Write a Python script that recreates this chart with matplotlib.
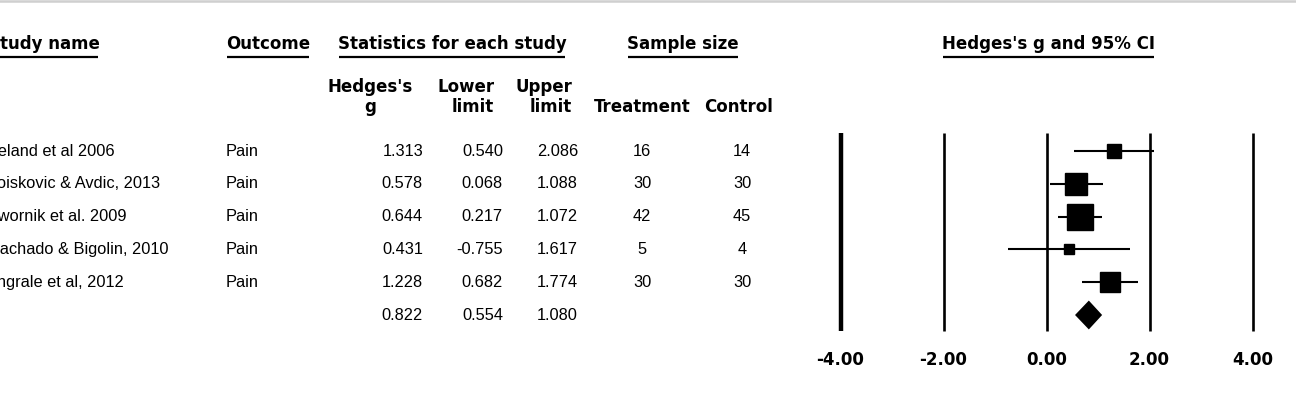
import matplotlib
matplotlib.use('Agg')
import matplotlib.pyplot as plt
import numpy as np

# data
studies = ['Ueland et al 2006', 'Boiskovic & Avdic, 2013', 'Dwornik et al. 2009',
           'Machado & Bigolin, 2010', 'Engrale et al, 2012']
outcome = ['Pain', 'Pain', 'Pain', 'Pain', 'Pain']
g = [1.313, 0.578, 0.644, 0.431, 1.228]
lower = [0.540, 0.068, 0.217, -0.755, 0.682]
upper = [2.086, 1.088, 1.072, 1.617, 1.774]
n_treat = [16, 30, 42, 5, 30]
n_ctrl = [14, 30, 45, 4, 30]
pooled = (0.822, 0.554, 1.080)
ticks = [-4, -2, 0, 2, 4]

W, H = 1296, 393
fig = plt.figure(figsize=(W / 100, H / 100), dpi=100)

# layout axes in pixel units for the table part
lay = fig.add_axes([0, 0, 1, 1])
lay.set_xlim(0, W)
lay.set_ylim(H, 0)
lay.axis('off')

# grey border at the very top
lay.axhline(1.2, color='#cfcfcf', lw=1.8)

hfont = dict(family='DejaVu Sans', fontweight='bold', fontsize=12, color='black')
rfont = dict(family='Liberation Sans', fontsize=11.8, color='black')

row_y = [151 + 32.8 * i for i in range(6)]

# headers (underlined afterwards)
headers = [
    lay.text(-12.5, 44, 'Study name', ha='left', va='center', **hfont),
    lay.text(226, 44, 'Outcome', ha='left', va='center', **hfont),
    lay.text(452, 44, 'Statistics for each study', ha='center', va='center', **hfont),
    lay.text(683, 44, 'Sample size', ha='center', va='center', **hfont),
    lay.text(1048, 44, "Hedges's g and 95% CI", ha='center', va='center', **hfont),
]

# sub headers
lay.text(370, 87, "Hedges's", ha='center', va='center', **hfont)
lay.text(370, 107, 'g', ha='center', va='center', **hfont)
lay.text(495, 87, 'Lower', ha='right', va='center', **hfont)
lay.text(494, 107, 'limit', ha='right', va='center', **hfont)
lay.text(572, 87, 'Upper', ha='right', va='center', **hfont)
lay.text(572, 107, 'limit', ha='right', va='center', **hfont)
lay.text(642, 107, 'Treatment', ha='center', va='center', **hfont)
lay.text(739, 107, 'Control', ha='center', va='center', **hfont)

# table rows (study names run off the left edge, as in the screenshot)
for i in range(len(studies)):
    y = row_y[i]
    lay.text(-13.5, y, studies[i], ha='left', va='center', **rfont)
    lay.text(226, y, outcome[i], ha='left', va='center', **rfont)
    lay.text(423, y, f'{g[i]:.3f}', ha='right', va='center', **rfont)
    lay.text(503, y, f'{lower[i]:.3f}', ha='right', va='center', **rfont)
    lay.text(578, y, f'{upper[i]:.3f}', ha='right', va='center', **rfont)
    lay.text(642, y, str(n_treat[i]), ha='center', va='center', **rfont)
    lay.text(742, y, str(n_ctrl[i]), ha='center', va='center', **rfont)
lay.text(423, row_y[5], f'{pooled[0]:.3f}', ha='right', va='center', **rfont)
lay.text(503, row_y[5], f'{pooled[1]:.3f}', ha='right', va='center', **rfont)
lay.text(578, row_y[5], f'{pooled[2]:.3f}', ha='right', va='center', **rfont)

# underline the headers using their rendered extents
fig.canvas.draw()
r = fig.canvas.get_renderer()
inv = lay.transData.inverted()
for t in headers:
    bb = t.get_window_extent(renderer=r)
    (x0, _), (x1, _) = inv.transform([(bb.x0, 0), (bb.x1, 0)])
    lay.plot([x0 + 1, x1 - 1], [57, 57], color='black', lw=1.6, solid_capstyle='butt')

# forest plot axes: 0 at x=1046.5 px, 51.5 px per unit
px_unit = 51.5
x_lo, x_hi = -4.6, 4.6
y_top, y_bot = -0.9, 6.9
left_px = 1046.5 + x_lo * px_unit
top_px = 151 + y_top * 32.8
bot_px = 151 + y_bot * 32.8
ax = fig.add_axes([left_px / W, (H - bot_px) / H,
                   (x_hi - x_lo) * px_unit / W, (bot_px - top_px) / H])
ax.set_xlim(x_lo, x_hi)
ax.set_ylim(y_bot, y_top)
ax.axis('off')

# vertical reference lines
for t in ticks:
    ax.vlines(t, -0.55, 5.5, color='black', lw=3.2 if t == ticks[0] else 1.9)

rows = np.arange(len(g))
ax.hlines(rows, lower, upper, color='black', lw=1.5)

# box size from inverse-variance weight
se = (np.array(upper) - np.array(lower)) / 3.92
side_px = 5.7 * np.sqrt(1 / se ** 2)
for i in rows:
    ax.plot(g[i], i, marker='s', ms=side_px[i] * 0.72, color='black', mec='black', lw=0)

# pooled diamond
est, lo, hi = pooled
ax.fill([lo, est, hi, est], [5, 5 - 0.44, 5, 5 + 0.44], color='black', lw=0)

# axis labels under the plot
for t in ticks:
    ax.text(t, 6.37, f'{t:.2f}', ha='center', va='center', **hfont)

fig.savefig('out.png', dpi=100)
